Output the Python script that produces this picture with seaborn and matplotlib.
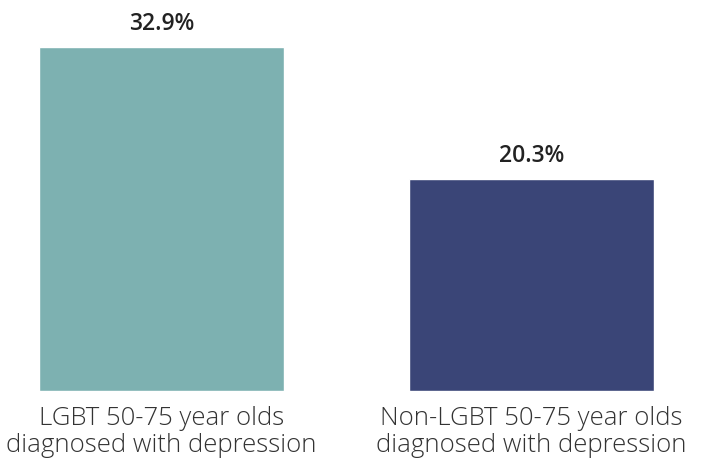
import pandas as pd
import matplotlib.pyplot as plt
import seaborn as sns

# Data
groups = ["LGBT 50-75 year olds\ndiagnosed with depression",
          "Non-LGBT 50-75 year olds\ndiagnosed with depression"]
values = [32.9, 20.3]
colors = ["#7DB1B1", "#3A4577"]

df = pd.DataFrame({"group": groups, "pct": values})

sns.set_style("white")
plt.rcParams['font.family'] = ['Open Sans', 'DejaVu Sans']

fig = plt.figure(figsize=(7.02, 4.62), dpi=100)
# axes placed so bars line up with the reference pixels
ax = fig.add_axes([39 / 702, 71 / 462, 615 / 702, 344 / 462])

sns.barplot(data=df, x="group", y="pct", hue="group", palette=colors,
            width=0.66, legend=False, ax=ax, saturation=1)

ax.set_xlim(-0.33, 1.33)
ax.set_ylim(0, 32.9)

for i, v in enumerate(values):
    ax.annotate(f"{v:.1f}%", (i, v), xytext=(0, 8), textcoords="offset points",
                ha="center", va="bottom", fontsize=16.5, fontweight="semibold",
                color="#222222", annotation_clip=False)

ax.set_xlabel("")
ax.set_ylabel("")
ax.set_yticks([])
ax.tick_params(axis="x", length=0, pad=11, labelsize=18.5, labelcolor="#333333")
for lbl in ax.get_xticklabels():
    lbl.set_fontweight("light")
    lbl.set_linespacing(1.1)
sns.despine(left=True, bottom=True)

fig.savefig("out.png", dpi=100)
